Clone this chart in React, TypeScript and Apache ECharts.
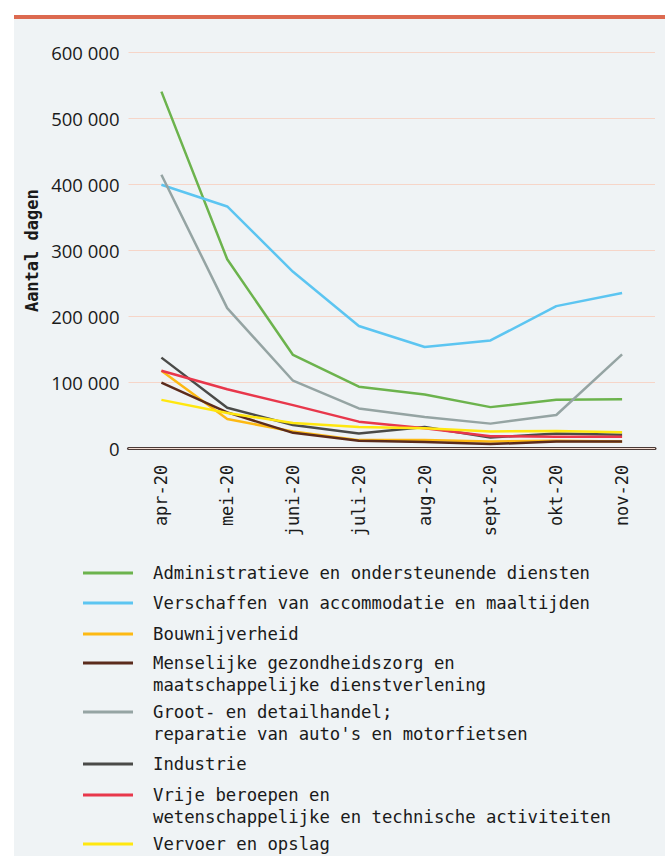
import React, { useEffect, useRef } from 'react';
import * as echarts from 'echarts';

const categories = ['apr-20', 'mei-20', 'juni-20', 'juli-20', 'aug-20', 'sept-20', 'okt-20', 'nov-20'];

const administratief = [541000, 287000, 142000, 94000, 82000, 63000, 74000, 75000];
const accommodatie = [400000, 367000, 268000, 186000, 154000, 164000, 216000, 236000];
const bouwnijverheid = [118000, 45000, 26000, 13000, 13000, 11000, 12000, 11000];
const menselijk = [100000, 55000, 24000, 12000, 10000, 7000, 11000, 11000];
const grootDetail = [415000, 213000, 103000, 61000, 48000, 38000, 51000, 143000];
const industrie = [138000, 62000, 36000, 23000, 33000, 17000, 23000, 21000];
const vrijeBeroepen = [118000, 90000, 66000, 41000, 31000, 19000, 18000, 18000];
const vervoer = [74000, 54000, 39000, 33000, 31000, 26000, 27000, 25000];

const yTicks = [0, 100000, 200000, 300000, 400000, 500000, 600000];

const seriesNames = [
  'Administratieve en ondersteunende diensten',
  'Verschaffen van accommodatie en maaltijden',
  'Bouwnijverheid',
  'Menselijke gezondheidszorg en\nmaatschappelijke dienstverlening',
  "Groot- en detailhandel;\nreparatie van auto's en motorfietsen",
  'Industrie',
  'Vrije beroepen en\nwetenschappelijke en technische activiteiten',
  'Vervoer en opslag',
];
const seriesData = [administratief, accommodatie, bouwnijverheid, menselijk, grootDetail, industrie, vrijeBeroepen, vervoer];

const palette = ['#6cb34d', '#5cc5f1', '#fdb913', '#5b2b1c', '#95a4a3', '#4a4a48', '#e8374b', '#ffe70f'];
const legendIconY = [573, 603, 634, 663, 712, 764, 795, 844];

export default function App() {
  const ref = useRef<HTMLDivElement>(null);
  useEffect(() => {
    if (!ref.current) return;
    const chart = echarts.init(ref.current, undefined, { renderer: 'svg' });
    const mono = 'DejaVu Sans Mono';
    const legends = seriesNames.map((n, i) => {
      const two = n.indexOf('\n') >= 0;
      return {
        data: [n],
        left: 83,
        top: legendIconY[i] - (two ? 33 : 11),
        orient: 'vertical',
        padding: 0,
        itemGap: 0,
        itemWidth: 50,
        itemHeight: 3,
        icon: 'rect',
        selectedMode: false,
        formatter: (name: string) => (two ? '\n' + name : name),
        textStyle: {
          fontFamily: mono,
          fontSize: 17.3,
          color: '#1a1a1a',
          lineHeight: 22,
          padding: [0, 0, 0, 15],
        },
      };
    });
    chart.setOption({
      animation: false,
      color: palette,
      graphic: [
        { type: 'rect', z: -10, shape: { x: 14, y: 19, width: 651, height: 837 }, style: { fill: '#eff3f5' } },
        { type: 'rect', z: -10, shape: { x: 14, y: 15, width: 651, height: 4 }, style: { fill: '#dc6a50' } },
      ],
      grid: { left: 128.5, right: 10, top: 52.7, bottom: 407.3, containLabel: false },
      legend: legends,
      xAxis: {
        type: 'category',
        data: categories,
        boundaryGap: true,
        axisLine: { show: true, lineStyle: { color: '#4b3a36', width: 3 } },
        axisTick: { show: false },
        axisLabel: {
          rotate: 90,
          margin: 16,
          fontFamily: mono,
          fontSize: 17,
          color: '#1a1a1a',
          interval: 0,
        },
      },
      yAxis: {
        type: 'value',
        min: yTicks[0],
        max: yTicks[yTicks.length - 1],
        interval: yTicks[1] - yTicks[0],
        name: 'Aantal dagen',
        nameLocation: 'middle',
        nameRotate: 90,
        nameGap: 88,
        nameTextStyle: { fontFamily: mono, fontSize: 17, fontWeight: 'bold', color: '#1a1a1a' },
        axisLine: { show: false },
        axisTick: { show: false },
        axisLabel: {
          margin: 9,
          fontFamily: 'Open Sans',
          fontSize: 18.5,
          color: '#1a1a1a',
          formatter: (v: number) => (v === 0 ? '0' : `${v / 1000} 000`),
        },
        splitLine: { show: true, lineStyle: { color: '#f6d5c8', width: 1 } },
      },
      series: seriesNames.map((n, i) => ({
        name: n,
        type: 'line',
        data: seriesData[i],
        showSymbol: false,
        symbol: 'none',
        lineStyle: { width: 2.5, color: palette[i] },
        itemStyle: { color: palette[i] },
        markLine:
          i === 0
            ? {
                silent: true,
                symbol: 'none',
                label: { show: false },
                lineStyle: { color: '#f3dcd2', width: 1, type: 'solid' },
                data: [{ yAxis: 0 }],
              }
            : undefined,
      })),
    });
    return () => chart.dispose();
  }, []);
  return <div ref={ref} style={{ position: 'absolute', left: 0, top: 0, width: 665, height: 856 }} />;
}
